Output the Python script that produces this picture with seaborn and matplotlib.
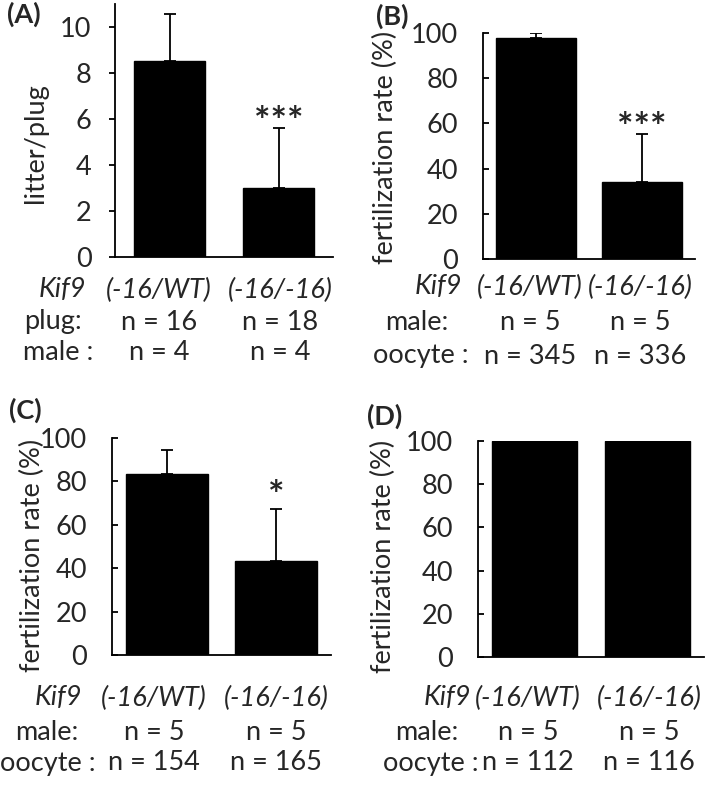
import matplotlib
matplotlib.use("Agg")
import matplotlib.pyplot as plt
import seaborn as sns

# data
genotypes = ["(-16/WT)", "(-16/-16)"]

litter_mean = [8.5, 3.0]
litter_sd = [2.05, 2.6]
plug_n = [16, 18]
male_n_a = [4, 4]

fert_b_mean = [98, 34]
fert_b_sd = [2, 21.5]
male_n_b = [5, 5]
oocyte_n_b = [345, 336]

fert_c_mean = [83.5, 43.5]
fert_c_sd = [11, 24]
male_n_c = [5, 5]
oocyte_n_c = [154, 165]

fert_d_mean = [100, 100]
male_n_d = [5, 5]
oocyte_n_d = [112, 116]

stars_a = ["", "***"]
stars_b = ["", "***"]
stars_c = ["", "*"]

sns.set_style("white")
plt.rcParams["font.family"] = ["Lato", "DejaVu Sans"]
plt.rcParams["axes.linewidth"] = 1.3

W, H = 709, 785
fig = plt.figure(figsize=(W / 100, H / 100), dpi=100)


def fx(px):
    return px / W


def fy(py):
    return 1 - py / H


panels = [
    dict(tag="(A)", tagpos=(24, 14), box=(115, 4, 333, 257), width=0.66,
         mean=litter_mean, sd=litter_sd, stars=stars_a, staroff=4,
         ylim=(0, 11), yticks=[0, 2, 4, 6, 8, 10], ylabel="litter/plug",
         ylab=(35, 143), tickdir="out",
         rows=[("plug:", plug_n), ("male :", male_n_a)],
         labx=[62, 53, 58], rowy=[290, 322, 353], colx=[159, 280]),
    dict(tag="(B)", tagpos=(392, 16), box=(483, 33, 695, 259), width=0.75,
         mean=fert_b_mean, sd=fert_b_sd, stars=stars_b, staroff=4,
         ylim=(0, 100), yticks=[0, 20, 40, 60, 80, 100],
         ylabel="fertilization rate (%)", ylab=(385, 147), tickdir="in",
         rows=[("male:", male_n_b), ("oocyte :", oocyte_n_b)],
         labx=[438, 417, 421], rowy=[287, 322, 356], colx=[530, 640]),
    dict(tag="(C)", tagpos=(25, 410), box=(112, 438, 331, 655), width=0.75,
         mean=fert_c_mean, sd=fert_c_sd, stars=stars_c, staroff=9,
         ylim=(0, 100), yticks=[0, 20, 40, 60, 80, 100],
         ylabel="fertilization rate (%)", ylab=(32, 555), tickdir="in",
         rows=[("male:", male_n_c), ("oocyte :", oocyte_n_c)],
         labx=[58, 47, 48], rowy=[698, 732, 763], colx=[154, 276]),
    dict(tag="(D)", tagpos=(385, 416), box=(478, 441, 704, 657), width=0.76,
         mean=fert_d_mean, sd=None, stars=None, staroff=0,
         ylim=(0, 100), yticks=[0, 20, 40, 60, 80, 100],
         ylabel="fertilization rate (%)", ylab=(383, 556), tickdir="in",
         rows=[("male:", male_n_d), ("oocyte :", oocyte_n_d)],
         labx=[447, 427, 431], rowy=[698, 732, 763], colx=[528, 649]),
]

fs = 19.5

for p in panels:
    l, t, r, b = p["box"]
    ax = fig.add_axes([fx(l), fy(b), (r - l) / W, (b - t) / H])
    sns.barplot(x=genotypes, y=p["mean"], color="black", saturation=1,
                width=p["width"], edgecolor="black", errorbar=None, ax=ax)
    if p["sd"] is not None:
        ax.errorbar(range(len(genotypes)), p["mean"],
                    yerr=[[0] * len(p["sd"]), p["sd"]], fmt="none",
                    ecolor="black", elinewidth=1.3, capsize=4, capthick=1.3)
    if p["stars"] is not None:
        for i, s in enumerate(p["stars"]):
            if s:
                ax.annotate(s, (i, p["mean"][i] + p["sd"][i]),
                            xytext=(0, p["staroff"]), textcoords="offset points",
                            ha="center", va="center", fontsize=28,
                            fontweight="bold")
    ax.set_xlim(-0.5, 1.5)
    ax.set_ylim(*p["ylim"])
    ax.set_yticks(p["yticks"])
    ax.set_xticks([])
    ax.set_xlabel("")
    sns.despine(ax=ax)
    for side in ["left", "bottom"]:
        ax.spines[side].set_color("black")
    ax.tick_params(axis="y", direction=p["tickdir"], length=4, width=1.3,
                   color="black", labelsize=fs, left=True,
                   pad=13 if p["tickdir"] == "out" else 18)
    ax.set_ylabel(p["ylabel"], fontsize=fs)
    ax.yaxis.label.set(ha="center", va="center")
    ax.yaxis.set_label_coords(fx(p["ylab"][0]), fy(p["ylab"][1]),
                              transform=fig.transFigure)

    fig.text(fx(p["tagpos"][0]), fy(p["tagpos"][1]), p["tag"], fontsize=fs,
             fontweight="bold", ha="center", va="center")

    # table under the bars
    fig.text(fx(p["labx"][0]), fy(p["rowy"][0]), "Kif9", fontsize=fs,
             style="italic", ha="center", va="center")
    for j, g in enumerate(genotypes):
        fig.text(fx(p["colx"][j]), fy(p["rowy"][0]), g, fontsize=fs,
                 style="italic", ha="center", va="center")
    for k, (name, vals) in enumerate(p["rows"]):
        fig.text(fx(p["labx"][k + 1]), fy(p["rowy"][k + 1]), name,
                 fontsize=fs, ha="center", va="center")
        for j, v in enumerate(vals):
            fig.text(fx(p["colx"][j]), fy(p["rowy"][k + 1]), f"n = {v}",
                     fontsize=fs, ha="center", va="center")

fig.savefig("out.png", dpi=100)
